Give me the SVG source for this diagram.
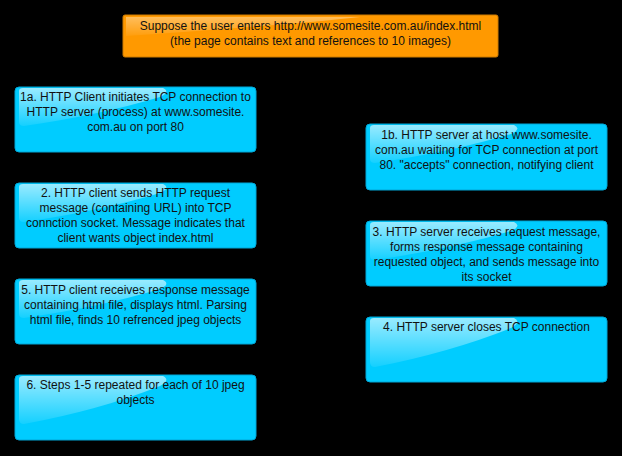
<svg xmlns="http://www.w3.org/2000/svg" width="622" height="456" viewBox="0 0 622 456">
<defs>
<linearGradient id="gloss" x1="0" y1="0" x2="0" y2="1">
<stop offset="0" stop-color="#ffffff" stop-opacity="0.6"/>
<stop offset="1" stop-color="#ffffff" stop-opacity="0.08"/>
</linearGradient>
<style>
.box{fill:#00ccff;stroke:#00a6d6;stroke-width:1}
.top{fill:#ff9900;stroke:#cc7a00;stroke-width:1}
.g{fill:url(#gloss)}
text{font-family:"Liberation Sans",Arial,sans-serif;font-size:12px;fill:#111;text-anchor:middle}
</style>
</defs>
<rect x="0" y="0" width="622" height="456" fill="#000"/>
<g id="title">
<rect class="top" x="123" y="15" width="375" height="42" rx="2"/>
<path class="g" d="M126,17 H360 Q300,24 126,36 Z" opacity="0.6"/>
<text x="310.5" y="30">Suppose the user enters http://www.somesite.com.au/index.html</text>
<text x="310.5" y="45">(the page contains text and references to 10 images)</text>
</g>
<g id="n1a">
<rect class="box" x="15" y="87" width="241" height="65" rx="4"/>
<path class="g" d="M19,91 Q19,88 23,88 H163 Q171,92 160,97 Q100,115 24,126 Q19,126 19,122 Z"/>
<text x="135.5" y="101">1a. HTTP Client initiates TCP connection to</text>
<text x="135.5" y="116">HTTP server (process) at www.somesite.</text>
<text x="135.5" y="131">com.au on port 80</text>
</g>
<g id="n1b">
<rect class="box" x="366" y="124" width="241" height="66" rx="4"/>
<path class="g" d="M370,128 Q370,125 374,125 H514 Q522,129 511,134 Q451,152 375,163 Q370,163 370,159 Z"/>
<text x="486.5" y="139">1b. HTTP server at host www.somesite.</text>
<text x="486.5" y="154">com.au waiting for TCP connection at port</text>
<text x="486.5" y="169">80. "accepts" connection, notifying client</text>
</g>
<g id="n2">
<rect class="box" x="15" y="183" width="241" height="65" rx="4"/>
<path class="g" d="M19,187 Q19,184 23,184 H163 Q171,188 160,193 Q100,211 24,222 Q19,222 19,218 Z"/>
<text x="135.5" y="197">2. HTTP client sends HTTP request</text>
<text x="135.5" y="212">message (containing URL) into TCP</text>
<text x="135.5" y="227">connction socket. Message indicates that</text>
<text x="135.5" y="242">client wants object index.html</text>
</g>
<g id="n3">
<rect class="box" x="366" y="221" width="241" height="65" rx="4"/>
<path class="g" d="M370,225 Q370,222 374,222 H514 Q522,226 511,231 Q451,249 375,260 Q370,260 370,256 Z"/>
<text x="486.5" y="236">3. HTTP server receives request message,</text>
<text x="486.5" y="251">forms response message containing</text>
<text x="486.5" y="266">requested object, and sends message into</text>
<text x="486.5" y="281">its socket</text>
</g>
<g id="n5">
<rect class="box" x="15" y="279" width="241" height="65" rx="4"/>
<path class="g" d="M19,283 Q19,280 23,280 H163 Q171,284 160,289 Q100,307 24,318 Q19,318 19,314 Z"/>
<text x="135.5" y="294">5. HTTP client receives response message</text>
<text x="135.5" y="309">containing html file, displays html. Parsing</text>
<text x="135.5" y="324">html file, finds 10 refrenced jpeg objects</text>
</g>
<g id="n4">
<rect class="box" x="366" y="317" width="241" height="65" rx="4"/>
<path class="g" d="M370,321 Q370,318 374,318 H514 Q522,322 511,328 Q451,352 375,367 Q370,367 370,362 Z"/>
<text x="486.5" y="331">4. HTTP server closes TCP connection</text>
</g>
<g id="n6">
<rect class="box" x="15" y="375" width="241" height="65" rx="4"/>
<path class="g" d="M19,379 Q19,376 23,376 H163 Q171,380 160,386 Q100,410 24,424 Q19,424 19,419 Z"/>
<text x="135.5" y="389">6. Steps 1-5 repeated for each of 10 jpeg</text>
<text x="135.5" y="404">objects</text>
</g>
<g id="connectors"></g>
</svg>
